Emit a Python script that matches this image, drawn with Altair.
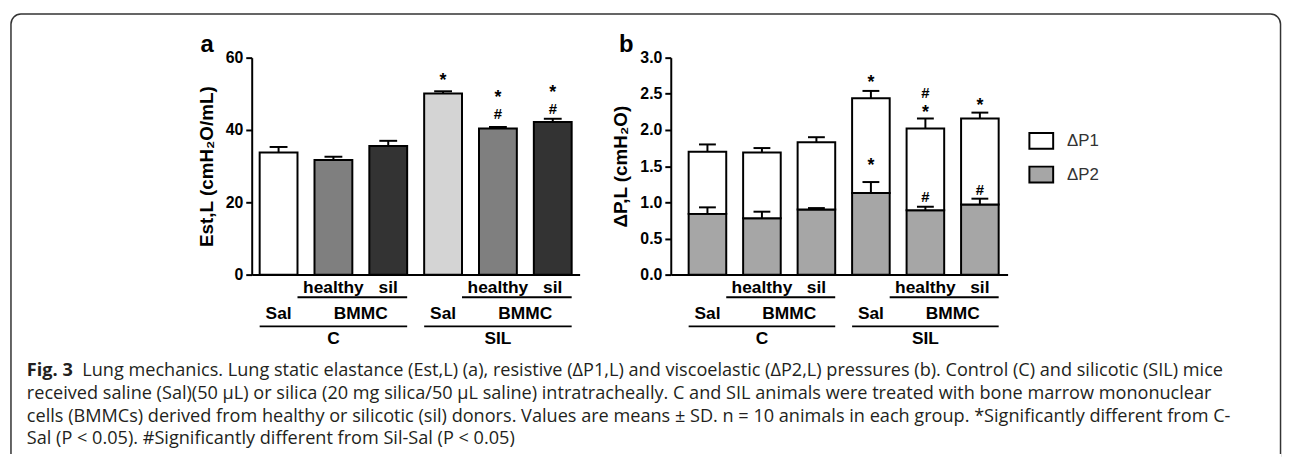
import altair as alt
import pandas as pd

FONT = "Liberation Sans"
CAP_FONT = "Open Sans"

groups = ["C-Sal", "C-BMMC-healthy", "C-BMMC-sil", "SIL-Sal", "SIL-BMMC-healthy", "SIL-BMMC-sil"]

# ---- panel a: static elastance ----
est_mean = [33.8, 31.7, 35.6, 50.1, 40.4, 42.2]
est_sd = [1.5, 0.9, 1.4, 0.6, 0.4, 0.9]
est_colors = ["#ffffff", "#7f7f7f", "#333333", "#d4d4d4", "#7f7f7f", "#333333"]

ann_a_group = ["SIL-Sal", "SIL-BMMC-healthy", "SIL-BMMC-healthy", "SIL-BMMC-sil", "SIL-BMMC-sil"]
ann_a_value = [54.7, 50.0, 44.6, 51.4, 46.2]
ann_a_symbol = ["*", "*", "#", "*", "#"]

# ---- panel b: pressures ----
components = ["ΔP1", "ΔP2"]
comp_colors = ["#ffffff", "#a6a6a6"]
dp2_mean = [0.84, 0.78, 0.90, 1.13, 0.89, 0.97]
dp2_sd = [0.09, 0.09, 0.02, 0.15, 0.05, 0.08]
dp1_mean = [0.86, 0.91, 0.93, 1.31, 1.13, 1.19]
dp1_sd = [0.10, 0.06, 0.07, 0.10, 0.14, 0.08]

ann_b_group = ["SIL-Sal", "SIL-Sal", "SIL-BMMC-healthy", "SIL-BMMC-healthy", "SIL-BMMC-healthy", "SIL-BMMC-sil", "SIL-BMMC-sil"]
ann_b_value = [2.71, 1.55, 2.52, 2.29, 1.09, 2.38, 1.19]
ann_b_symbol = ["*", "*", "#", "*", "#", "*", "#"]

# ---- group labels under the axes ----
row1_text = ["healthy", "sil", "healthy", "sil"]
row1_group = [groups[1], groups[2], groups[4], groups[5]]
row2_text = ["Sal", "Sal"]
row2_group = [groups[0], groups[3]]
bmmc_text = ["BMMC", "BMMC"]
bmmc_group = [groups[1], groups[4]]
row3_text = ["C", "SIL"]
row3_group = [groups[1], groups[4]]
line_first = [groups[0], groups[3]]
line_last = [groups[2], groups[5]]

# ---- caption ----
cap_bold = "Fig. 3"
cap_line1 = ("Lung mechanics. Lung static elastance (Est,L) (a), resistive (ΔP1,L) and viscoelastic "
             "(ΔP2,L) pressures (b). Control (C) and silicotic (SIL) mice")
cap_line2 = ("received saline (Sal)(50 µL) or silica (20 mg silica/50 µL saline) intratracheally. "
             "C and SIL animals were treated with bone marrow mononuclear")
cap_line3 = ("cells (BMMCs) derived from healthy or silicotic (sil) donors. Values are means ± SD. "
             "n = 10 animals in each group. *Significantly different from C-")
cap_line4 = "Sal (P < 0.05). #Significantly different from Sil-Sal (P < 0.05)"

one = pd.DataFrame({"k": [0]})

xa_scale = alt.Scale(domain=groups, paddingInner=0.31, paddingOuter=0.145)
xb_scale = alt.Scale(domain=groups, paddingInner=0.31, paddingOuter=0.246, align=0.667)
x_axis = alt.Axis(labels=False, ticks=False, title=None, domainWidth=2, domainColor="black")


def xenc(field, sc, **kw):
    return alt.X(f"{field}:N", scale=sc, sort=groups, axis=x_axis, **kw)


def ya(field, **kw):
    return alt.Y(f"{field}:Q", scale=alt.Scale(domain=[0, 60], nice=False),
                 axis=alt.Axis(values=[0, 20, 40, 60], title="Est,L (cmH₂O/mL)"), **kw)


def yb(field, **kw):
    return alt.Y(f"{field}:Q", scale=alt.Scale(domain=[0, 3], nice=False),
                 axis=alt.Axis(values=[0, 0.5, 1, 1.5, 2, 2.5, 3], format=".1f",
                               title="ΔP,L (cmH₂O)"), **kw)


def label_layers(sc):
    lab = dict(font=FONT, fontSize=17.5, fontWeight="bold", baseline="middle", color="black")
    r1 = alt.Chart(pd.DataFrame({"group": row1_group, "t": row1_text})).mark_text(**lab).encode(
        x=xenc("group", sc), y=alt.value(232.25), text="t:N")
    r2 = alt.Chart(pd.DataFrame({"group": row2_group, "t": row2_text})).mark_text(**lab).encode(
        x=xenc("group", sc), y=alt.value(259.25), text="t:N")
    bm = alt.Chart(pd.DataFrame({"group": bmmc_group, "t": bmmc_text})).mark_text(dx=27.6, **lab).encode(
        x=xenc("group", sc), y=alt.value(259.25), text="t:N")
    r3 = alt.Chart(pd.DataFrame({"group": row3_group, "t": row3_text})).mark_text(**lab).encode(
        x=xenc("group", sc), y=alt.value(284.5), text="t:N")
    lines = pd.DataFrame({"first": line_first, "last": line_last})
    l1 = alt.Chart(lines).mark_rule(strokeWidth=2, color="black").encode(
        x=xenc("first", sc, bandPosition=1), x2=alt.X2("last:N", bandPosition=1), y=alt.value(241.75))
    l2 = alt.Chart(lines).mark_rule(strokeWidth=2, color="black").encode(
        x=xenc("first", sc, bandPosition=0), x2=alt.X2("last:N", bandPosition=1), y=alt.value(271.25))
    return [r1, r2, bm, r3, l1, l2]


def ann_layers(df, xfield_sc, yfun):
    star = alt.Chart(df[df["sym"] == "*"]).mark_text(font=FONT, fontSize=18, fontWeight="bold",
                                                     baseline="middle", dy=4, color="black").encode(
        x=xenc("group", xfield_sc), y=yfun("v"), text="sym:N")
    hsh = alt.Chart(df[df["sym"] == "#"]).mark_text(font=FONT, fontSize=15, fontWeight="bold",
                                                    baseline="middle", dy=1, color="black").encode(
        x=xenc("group", xfield_sc), y=yfun("v"), text="sym:N")
    return [star, hsh]


# ---------------- panel a ----------------
df_a = pd.DataFrame({"group": groups, "est": est_mean, "sd": est_sd, "color": est_colors})
df_ann_a = pd.DataFrame({"group": ann_a_group, "v": ann_a_value, "sym": ann_a_symbol})

frame = alt.Chart(one).mark_rect(fill="white", fillOpacity=0, stroke="#333333", strokeWidth=1.5,
                                 cornerRadiusTopLeft=10, cornerRadiusTopRight=10).encode(
    x=alt.value(-243), x2=alt.value(1038.5), y=alt.value(-44), y2=alt.value(402))
frame_cover = alt.Chart(one).mark_rule(color="white", strokeWidth=4).encode(
    x=alt.value(-244), x2=alt.value(1039.5), y=alt.value(402))

bars_a = alt.Chart(df_a).mark_bar(stroke="black", strokeWidth=2).encode(
    x=xenc("group", xa_scale), y=ya("est"), fill=alt.Fill("color:N", scale=None))
err_a = alt.Chart(df_a).transform_calculate(hi="datum.est + datum.sd").mark_rule(
    strokeWidth=2, color="black").encode(x=xenc("group", xa_scale), y=ya("est"), y2=alt.Y2("hi:Q"))
cap_a = alt.Chart(df_a).transform_calculate(hi="datum.est + datum.sd").mark_tick(
    size=18, thickness=2, color="black", opacity=1).encode(x=xenc("group", xa_scale), y=ya("hi"))

letter_a = alt.Chart(one).mark_text(text="a", font=FONT, fontSize=24, fontWeight="bold",
                                    baseline="alphabetic", color="black").encode(
    x=alt.value(-45), y=alt.value(-6))

cap_style = dict(font=CAP_FONT, fontSize=18.3, baseline="middle", align="left", color="#231f20")
caption = [
    alt.Chart(one).mark_text(text=cap_bold, fontWeight="bold", **cap_style).encode(
        x=alt.value(-227), y=alt.value(316.75)),
    alt.Chart(one).mark_text(text=cap_line1, **cap_style).encode(x=alt.value(-171), y=alt.value(316.75)),
    alt.Chart(one).mark_text(text=cap_line2, **cap_style).encode(x=alt.value(-227), y=alt.value(339.75)),
    alt.Chart(one).mark_text(text=cap_line3, **cap_style).encode(x=alt.value(-227), y=alt.value(362.75)),
    alt.Chart(one).mark_text(text=cap_line4, **cap_style).encode(x=alt.value(-227), y=alt.value(385.25)),
]

panel_a = alt.layer(
    frame, frame_cover, bars_a, err_a, cap_a,
    *ann_layers(df_ann_a, xa_scale, ya),
    *label_layers(xa_scale),
    letter_a, *caption,
).properties(width=331, height=219)

# ---------------- panel b ----------------
df_b = pd.DataFrame({
    "group": groups * 2,
    "comp": ["ΔP2"] * 6 + ["ΔP1"] * 6,
    "value": dp2_mean + dp1_mean,
    "ord": [0] * 6 + [1] * 6,
})
df_err_b = pd.DataFrame({
    "group": groups * 2,
    "base": dp2_mean + [round(a + b, 2) for a, b in zip(dp2_mean, dp1_mean)],
    "sd": dp2_sd + dp1_sd,
})
df_ann_b = pd.DataFrame({"group": ann_b_group, "v": ann_b_value, "sym": ann_b_symbol})

bars_b = alt.Chart(df_b).mark_bar(stroke="black", strokeWidth=2).encode(
    x=xenc("group", xb_scale),
    y=yb("value", stack="zero"),
    fill=alt.Fill("comp:N", scale=alt.Scale(domain=components, range=comp_colors),
                  legend=alt.Legend(title=None, orient="none", legendX=788, legendY=75,
                                    symbolType="M-1.5,-1L1.5,-1L1.5,1L-1.5,1Z", symbolSize=256,
                                    symbolStrokeColor="black", symbolStrokeWidth=2, symbolOpacity=1,
                                    labelFont=FONT, labelFontSize=17, labelColor="#333333",
                                    labelOffset=17, rowPadding=10)),
    order=alt.Order("ord:Q"),
)
err_b = alt.Chart(df_err_b).transform_calculate(hi="datum.base + datum.sd").mark_rule(
    strokeWidth=2, color="black").encode(x=xenc("group", xb_scale), y=yb("base"), y2=alt.Y2("hi:Q"))
cap_b = alt.Chart(df_err_b).transform_calculate(hi="datum.base + datum.sd").mark_tick(
    size=17, thickness=2, color="black", opacity=1).encode(x=xenc("group", xb_scale), y=yb("hi"))

letter_b = alt.Chart(one).mark_text(text="b", font=FONT, fontSize=24, fontWeight="bold",
                                    baseline="alphabetic", color="black").encode(
    x=alt.value(-45), y=alt.value(-6))

panel_b = alt.layer(
    bars_b, err_b, cap_b,
    *ann_layers(df_ann_b, xb_scale, yb),
    *label_layers(xb_scale),
    letter_b,
).properties(width=340, height=219)

chart = alt.hconcat(panel_a, panel_b, spacing=92, bounds="flush").properties(
    padding={"left": 0, "top": 3, "right": 0, "bottom": 0}
).configure_view(stroke=None).configure_axis(
    grid=False,
    domainColor="black", domainWidth=2,
    tickColor="black", tickWidth=2, tickSize=6,
    labelFont=FONT, labelFontSize=16, labelFontWeight="bold", labelColor="black", labelPadding=3,
    titleFont=FONT, titleFontSize=19, titleFontWeight="bold", titleColor="black", titlePadding=9,
)

chart.save("out.html", embed_options={"renderer": "svg", "actions": False})
